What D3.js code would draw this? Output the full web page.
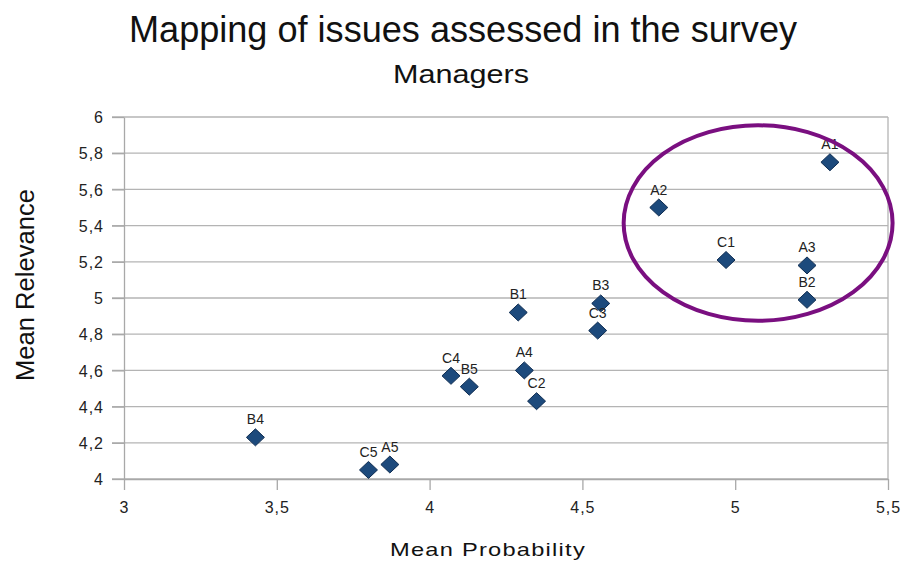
<!DOCTYPE html>
<meta charset="utf-8">
<style>
body { margin: 0; background: #fff; }
svg text { font-family: "Liberation Sans", Arial, sans-serif; fill: #111; }
.grid line { stroke: #b4b4b4; stroke-width: 1.3; }
.axis path, .axis line { stroke: #a8a8a8; stroke-width: 1.3; }
.axis text { font-size: 16px; fill: #222; letter-spacing: 1px; }
</style>
<body>
<svg width="909" height="562"></svg>
<script src="https://d3js.org/d3.v7.min.js"></script>
<script>
// issue codes and their mean probability / mean relevance (managers)
var labels = ["A1","A2","C1","A3","B2","B3","C3","B1","A4","C2","C4","B5","B4","C5","A5"];
var probability = [5.31, 4.75, 4.97, 5.235, 5.235, 4.56, 4.55, 4.29, 4.31, 4.35, 4.07, 4.13, 3.43, 3.80, 3.87];
var relevance   = [5.75, 5.50, 5.21, 5.18, 4.99, 4.97, 4.82, 4.92, 4.60, 4.43, 4.57, 4.51, 4.23, 4.05, 4.08];

var xTicks = [3, 3.5, 4, 4.5, 5, 5.5];
var yTicks = [4, 4.2, 4.4, 4.6, 4.8, 5, 5.2, 5.4, 5.6, 5.8, 6];

// highlight ellipse, in data units: [cx, cy, rx, ry]
var highlight = [5.075, 5.414, 0.44, 0.54];

var svg = d3.select("svg"),
    margin = {top: 117, right: 21, bottom: 83, left: 124},
    width = +svg.attr("width") - margin.left - margin.right,
    height = +svg.attr("height") - margin.top - margin.bottom;

var x = d3.scaleLinear().domain([3, 5.5]).range([0, width]),
    y = d3.scaleLinear().domain([4, 6]).range([height, 0]);

var comma = function(d) { return String(d).replace(".", ","); };

var g = svg.append("g")
    .attr("transform", "translate(" + margin.left + "," + margin.top + ")");

// horizontal gridlines, running out past the axis as ticks
g.append("g").attr("class", "grid")
  .selectAll("line").data(yTicks).enter().append("line")
    .attr("x1", -12).attr("x2", width)
    .attr("y1", function(d) { return y(d); })
    .attr("y2", function(d) { return y(d); });

// right border
g.append("line")
    .attr("x1", width).attr("x2", width).attr("y1", 0).attr("y2", height)
    .style("stroke", "#b4b4b4").style("stroke-width", 1.3);

g.append("g")
    .attr("class", "axis")
    .attr("transform", "translate(0," + height + ")")
    .call(d3.axisBottom(x).tickValues(xTicks).tickFormat(comma).tickSize(11).tickSizeOuter(0).tickPadding(12));

g.append("g")
    .attr("class", "axis")
    .call(d3.axisLeft(y).tickValues(yTicks).tickFormat(comma).tickSize(12).tickSizeOuter(0).tickPadding(8))
  .selectAll("text").attr("dy", "0.36em");

var pts = labels.map(function(l, i) { return {label: l, x: probability[i], y: relevance[i]}; });

// diamonds
g.selectAll(".pt").data(pts).enter().append("path")
    .attr("class", "pt")
    .attr("d", "M0,-8.5L9,0L0,8.5L-9,0Z")
    .attr("transform", function(d) { return "translate(" + x(d.x) + "," + y(d.y) + ")"; })
    .style("fill", "#1d4a7c")
    .style("stroke", "#0f2d52")
    .style("stroke-width", 1);

g.selectAll(".lbl").data(pts).enter().append("text")
    .attr("class", "lbl")
    .attr("x", function(d) { return x(d.x); })
    .attr("y", function(d) { return y(d.y) - 13; })
    .attr("text-anchor", "middle")
    .style("font-size", "14px")
    .style("fill", "#222")
    .text(function(d) { return d.label; });

// purple ellipse drawn over everything
g.append("ellipse")
    .attr("cx", x(highlight[0]))
    .attr("cy", y(highlight[1]))
    .attr("rx", x(highlight[0] + highlight[2]) - x(highlight[0]))
    .attr("ry", y(highlight[1] - highlight[3]) - y(highlight[1]))
    .style("fill", "none")
    .style("stroke", "#7a0f80")
    .style("stroke-width", 4);

// titles
svg.append("text")
    .attr("x", 463).attr("y", 42)
    .attr("text-anchor", "middle")
    .attr("textLength", 668).attr("lengthAdjust", "spacingAndGlyphs")
    .style("font-size", "36px")
    .text("Mapping of issues assessed in the survey");

svg.append("text")
    .attr("x", 461).attr("y", 83)
    .attr("text-anchor", "middle")
    .attr("textLength", 136).attr("lengthAdjust", "spacingAndGlyphs")
    .style("font-size", "25px")
    .text("Managers");

svg.append("text")
    .attr("x", 488).attr("y", 556)
    .attr("text-anchor", "middle")
    .attr("textLength", 196).attr("lengthAdjust", "spacingAndGlyphs")
    .style("font-size", "19px")
    .style("letter-spacing", "1px")
    .text("Mean Probability");

svg.append("text")
    .attr("transform", "translate(34,285) rotate(-90)")
    .attr("text-anchor", "middle")
    .attr("textLength", 192).attr("lengthAdjust", "spacingAndGlyphs")
    .style("font-size", "25px")
    .text("Mean Relevance");
</script>
</body>
